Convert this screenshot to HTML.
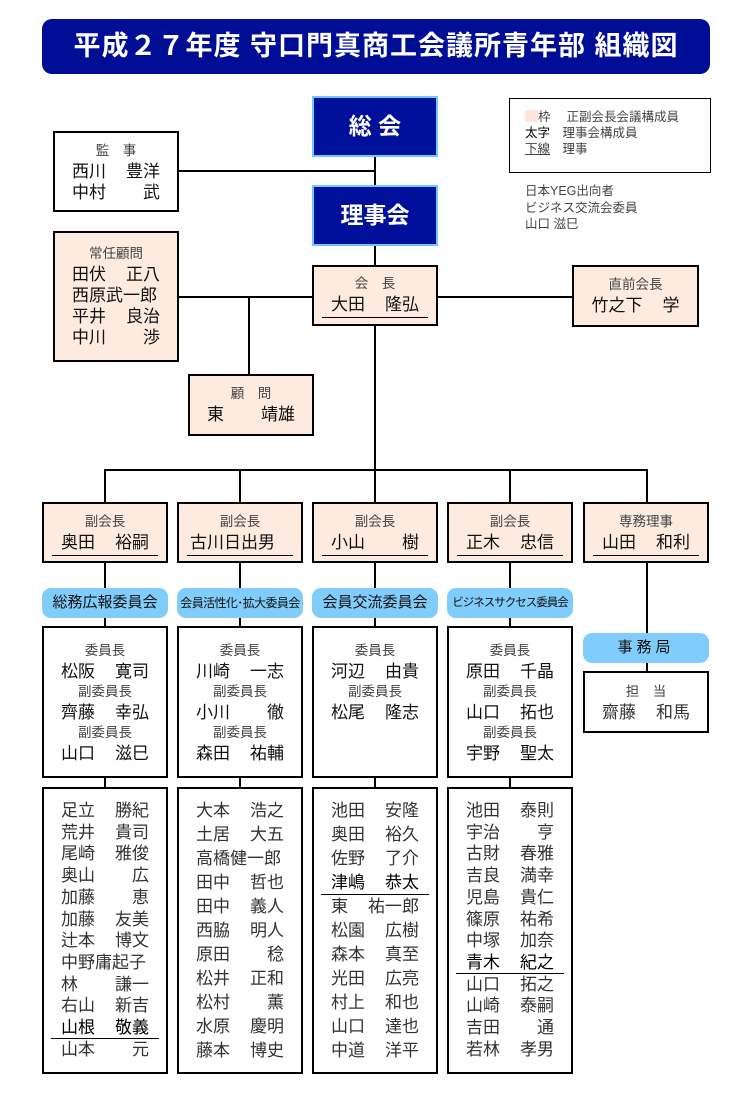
<!DOCTYPE html>
<html><head><meta charset="utf-8">
<style>
*{margin:0;padding:0;box-sizing:border-box}
body{width:750px;height:1100px;background:#fff;position:relative;overflow:hidden;font-family:"Liberation Sans","Noto Sans CJK JP",sans-serif;color:#111}
.a{position:absolute}
.title{left:42px;top:19px;width:668px;height:55px;background:#000e96;border-radius:10px;color:#fff;font-weight:bold;font-size:27px;text-align:center;line-height:55px;letter-spacing:1px}
.nv{background:#00109a;border:2px solid #6cc8ff;color:#fff;font-weight:bold;font-size:23px;text-align:center;line-height:56px;width:126px;height:61px;left:312px}
.box{border:2px solid #000;background:#fff;text-align:center}
.pk{background:#fdebdf}
.hl{position:absolute;height:2px;background:#000}
.vl{position:absolute;width:2px;background:#000}
.t{font-size:13.5px;color:#444;line-height:20px}
.n{display:flex;justify-content:space-between;width:88px;margin:0 auto;font-size:17px;line-height:21px;color:#111}
.ul{border-bottom:1px solid #000;width:106px;margin:0 auto;padding-bottom:2px}
.ul .n{width:88px}
.pill{background:#80ccfa;border-radius:9px;height:30px;text-align:center;line-height:30px;font-size:15px;color:#111;white-space:nowrap;overflow:hidden}
.lst{padding-top:10px}
.lst .n{line-height:24px;color:#333}
.lst.c12{padding-top:11px}
.lst.c12 .n{line-height:21.7px}
.lst .b{color:#000}
.r{position:relative}
.r.u::after{content:"";position:absolute;left:-10px;right:-10px;bottom:0;height:1px;background:#000}
</style></head><body>
<div class="a title">平成２７年度 守口門真商工会議所青年部 組織図</div>

<div class="vl" style="left:374px;top:157px;height:314px"></div>
<div class="hl" style="left:178px;top:170px;width:197px"></div>
<div class="hl" style="left:178px;top:296px;width:135px"></div>
<div class="vl" style="left:248px;top:296px;height:79px"></div>
<div class="hl" style="left:437px;top:296px;width:136px"></div>
<div class="hl" style="left:104px;top:469px;width:544px"></div>
<div class="vl" style="left:104px;top:469px;height:310px"></div>
<div class="vl" style="left:239px;top:469px;height:310px"></div>
<div class="vl" style="left:374px;top:469px;height:310px"></div>
<div class="vl" style="left:509px;top:469px;height:310px"></div>
<div class="vl" style="left:646px;top:469px;height:205px"></div>
<div class="vl" style="left:104px;top:777px;height:12px"></div>
<div class="vl" style="left:239px;top:777px;height:12px"></div>
<div class="vl" style="left:374px;top:777px;height:12px"></div>
<div class="vl" style="left:509px;top:777px;height:12px"></div>

<div class="a nv" style="top:96px">総 会</div>
<div class="a nv" style="top:185px">理事会</div>

<div class="a box" style="left:53px;top:131px;width:126px;height:81px;padding-top:8px">
<div class="t">監　事</div><div class="n"><span>西川</span><span>豊洋</span></div><div class="n"><span>中村</span><span>武</span></div></div>

<div class="a box pk" style="left:53px;top:231px;width:126px;height:131px;padding-top:11px">
<div class="t">常任顧問</div><div class="n"><span>田伏</span><span>正八</span></div><div class="n"><span>西原武一郎</span></div><div class="n"><span>平井</span><span>良治</span></div><div class="n"><span>中川</span><span>渉</span></div></div>

<div class="a box pk" style="left:188px;top:374px;width:126px;height:62px;padding-top:8px">
<div class="t">顧　問</div><div class="n"><span>東</span><span>靖雄</span></div></div>

<div class="a box pk" style="left:312px;top:265px;width:126px;height:61px;padding-top:7px">
<div class="t">会　長</div><div class="ul"><div class="n"><span>大田</span><span>隆弘</span></div></div></div>

<div class="a box pk" style="left:572px;top:265px;width:127px;height:62px;padding-top:8px">
<div class="t">直前会長</div><div class="n"><span>竹之下</span><span>学</span></div></div>

<div class="a" style="left:509px;top:98px;width:202px;height:75px;border:1px solid #000;padding:10px 0 0 15px;font-size:12.5px;line-height:16px;color:#444">
<div><span style="display:inline-block;width:13px;height:12px;background:#fde6da;vertical-align:-1px"></span>枠　 正副会長会議構成員</div>
<div><span style="color:#000">太字</span>　理事会構成員</div>
<div><span style="text-decoration:underline">下線</span>　理事</div></div>
<div class="a" style="left:525px;top:183px;font-size:12.5px;line-height:16.5px;color:#444">日本YEG出向者<br>ビジネス交流会委員<br>山口 滋巳</div>

<div class="a box pk" style="left:42px;top:502px;width:126px;height:61px;padding-top:8px"><div class="t">副会長</div><div class="ul"><div class="n"><span>奥田</span><span>裕嗣</span></div></div></div>
<div class="a box pk" style="left:177px;top:502px;width:126px;height:61px;padding-top:8px"><div class="t">副会長</div><div class="ul"><div class="n" style="width:100px"><span>古川日出男</span></div></div></div>
<div class="a box pk" style="left:312px;top:502px;width:126px;height:61px;padding-top:8px"><div class="t">副会長</div><div class="ul"><div class="n"><span>小山</span><span>樹</span></div></div></div>
<div class="a box pk" style="left:447px;top:502px;width:126px;height:61px;padding-top:8px"><div class="t">副会長</div><div class="ul"><div class="n"><span>正木</span><span>忠信</span></div></div></div>
<div class="a box pk" style="left:583px;top:502px;width:126px;height:61px;padding-top:8px"><div class="t">専務理事</div><div class="ul"><div class="n"><span>山田</span><span>和利</span></div></div></div>

<div class="a pill" style="left:42px;top:588px;width:126px">総務広報委員会</div>
<div class="a pill" style="left:177px;top:588px;width:126px;font-size:12px;letter-spacing:-0.6px">会員活性化･拡大委員会</div>
<div class="a pill" style="left:312px;top:588px;width:126px">会員交流委員会</div>
<div class="a pill" style="left:447px;top:588px;width:126px;font-size:11.5px;letter-spacing:-1px">ビジネスサクセス委員会</div>
<div class="a pill" style="left:583px;top:633px;width:126px;letter-spacing:4px">事務局</div>

<div class="a box" style="left:42px;top:626px;width:126px;height:152px;padding-top:13px">
<div class="t">委員長</div><div class="n"><span>松阪</span><span>寛司</span></div>
<div class="t">副委員長</div><div class="n"><span>齊藤</span><span>幸弘</span></div>
<div class="t">副委員長</div><div class="n"><span>山口</span><span>滋巳</span></div></div>
<div class="a box" style="left:177px;top:626px;width:126px;height:152px;padding-top:13px">
<div class="t">委員長</div><div class="n"><span>川崎</span><span>一志</span></div>
<div class="t">副委員長</div><div class="n"><span>小川</span><span>徹</span></div>
<div class="t">副委員長</div><div class="n"><span>森田</span><span>祐輔</span></div></div>
<div class="a box" style="left:312px;top:626px;width:126px;height:152px;padding-top:13px">
<div class="t">委員長</div><div class="n"><span>河辺</span><span>由貴</span></div>
<div class="t">副委員長</div><div class="n"><span>松尾</span><span>隆志</span></div></div>
<div class="a box" style="left:447px;top:626px;width:126px;height:152px;padding-top:13px">
<div class="t">委員長</div><div class="n"><span>原田</span><span>千晶</span></div>
<div class="t">副委員長</div><div class="n"><span>山口</span><span>拓也</span></div>
<div class="t">副委員長</div><div class="n"><span>宇野</span><span>聖太</span></div></div>
<div class="a box" style="left:583px;top:671px;width:126px;height:62px;padding-top:9px">
<div class="t">担　当</div><div class="n" style="color:#333"><span>齋藤</span><span>和馬</span></div></div>

<div class="a box lst c12" style="left:42px;top:787px;width:126px;height:287px">
<div class="n"><span>足立</span><span>勝紀</span></div><div class="n"><span>荒井</span><span>貴司</span></div><div class="n"><span>尾崎</span><span>雅俊</span></div><div class="n"><span>奥山</span><span>広</span></div><div class="n"><span>加藤</span><span>恵</span></div><div class="n"><span>加藤</span><span>友美</span></div><div class="n"><span>辻本</span><span>博文</span></div><div class="n"><span>中野庸起子</span></div><div class="n"><span>林</span><span>謙一</span></div><div class="n"><span>右山</span><span>新吉</span></div><div class="n r u b"><span>山根</span><span>敬義</span></div><div class="n"><span>山本</span><span>元</span></div></div>
<div class="a box lst" style="left:177px;top:787px;width:126px;height:287px">
<div class="n"><span>大本</span><span>浩之</span></div><div class="n"><span>土居</span><span>大五</span></div><div class="n"><span>高橋健一郎</span></div><div class="n"><span>田中</span><span>哲也</span></div><div class="n"><span>田中</span><span>義人</span></div><div class="n"><span>西脇</span><span>明人</span></div><div class="n"><span>原田</span><span>稔</span></div><div class="n"><span>松井</span><span>正和</span></div><div class="n"><span>松村</span><span>薫</span></div><div class="n"><span>水原</span><span>慶明</span></div><div class="n"><span>藤本</span><span>博史</span></div></div>
<div class="a box lst" style="left:312px;top:787px;width:126px;height:287px">
<div class="n"><span>池田</span><span>安隆</span></div><div class="n"><span>奥田</span><span>裕久</span></div><div class="n"><span>佐野</span><span>了介</span></div><div class="n r u b"><span>津嶋</span><span>恭太</span></div><div class="n"><span>東</span><span>祐一郎</span></div><div class="n"><span>松園</span><span>広樹</span></div><div class="n"><span>森本</span><span>真至</span></div><div class="n"><span>光田</span><span>広亮</span></div><div class="n"><span>村上</span><span>和也</span></div><div class="n"><span>山口</span><span>達也</span></div><div class="n"><span>中道</span><span>洋平</span></div></div>
<div class="a box lst c12" style="left:447px;top:787px;width:126px;height:287px">
<div class="n"><span>池田</span><span>泰則</span></div><div class="n"><span>宇治</span><span>亨</span></div><div class="n"><span>古財</span><span>春雅</span></div><div class="n"><span>吉良</span><span>満幸</span></div><div class="n"><span>児島</span><span>貴仁</span></div><div class="n"><span>篠原</span><span>祐希</span></div><div class="n"><span>中塚</span><span>加奈</span></div><div class="n r u b"><span>青木</span><span>紀之</span></div><div class="n"><span>山口</span><span>拓之</span></div><div class="n"><span>山崎</span><span>泰嗣</span></div><div class="n"><span>吉田</span><span>通</span></div><div class="n"><span>若林</span><span>孝男</span></div></div>
</body></html>
